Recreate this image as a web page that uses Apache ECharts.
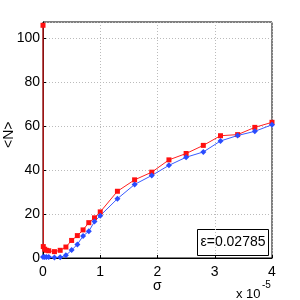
<!DOCTYPE html>
<html><head><meta charset="utf-8">
<script src="https://cdn.jsdelivr.net/npm/echarts@6/dist/echarts.min.js"></script>
<style>html,body{margin:0;padding:0;background:#fff}#c{width:300px;height:300px}</style>
</head><body><div id="c"></div>
<script>
// sigma values in units of 1e-5
const redX = [0, 0.005, 0.03, 0.06, 0.1, 0.2, 0.3, 0.4, 0.5, 0.6, 0.7, 0.8, 0.9, 1.0, 1.3, 1.6, 1.9, 2.2, 2.5, 2.8, 3.1, 3.4, 3.7, 4.0];
const redY = [106, 5.2, 4.0, 3.5, 3.3, 2.9, 3.5, 5.0, 8.0, 10.2, 12.8, 16.1, 18.3, 21.0, 30.4, 35.6, 39.1, 44.7, 47.6, 51.3, 55.7, 56.2, 59.5, 61.8];
const blueX = [0, 0.03, 0.06, 0.1, 0.2, 0.3, 0.4, 0.5, 0.6, 0.7, 0.8, 0.9, 1.0, 1.3, 1.6, 1.9, 2.2, 2.5, 2.8, 3.1, 3.4, 3.7, 4.0];
const blueY = [0.5, 0.5, 0.4, 0.4, 0.2, 0.3, 1.2, 3.6, 6.2, 10.0, 12.2, 16.6, 19.3, 27.0, 33.5, 37.6, 42.2, 45.9, 48.3, 53.3, 55.8, 57.7, 60.7];
const xTicks = [0, 1, 2, 3, 4];
const yTicks = [0, 20, 40, 60, 80, 100];
const legendText = 'ε=0.02785';

const pair = (xs, ys) => xs.map((x, i) => [x, ys[i]]);
const font = 'Liberation Sans, Arial, sans-serif';
const chart = echarts.init(document.getElementById('c'), null, {renderer: 'canvas'});
chart.setOption({
  animation: false,
  grid: {left: 43, right: 28, top: 22, bottom: 42, show: true, borderColor: '#000', borderWidth: 1, backgroundColor: 'transparent'},
  xAxis: {
    type: 'value', min: 0, max: 4, interval: 1,
    axisLine: {lineStyle: {color: '#000'}},
    axisTick: {inside: true, length: 3, lineStyle: {color: '#000'}},
    axisLabel: {color: '#000', fontSize: 14, fontFamily: font, margin: 7,
      formatter: v => xTicks.includes(v) ? String(v) : ''},
    splitLine: {show: true, lineStyle: {color: '#bbb', type: [1, 2], width: 1}}
  },
  yAxis: {
    type: 'value', min: 0, max: 107.5, interval: 20,
    axisLine: {lineStyle: {color: '#000'}},
    axisTick: {inside: true, length: 3, lineStyle: {color: '#000'}},
    axisLabel: {color: '#000', fontSize: 14, fontFamily: font, margin: 3, showMaxLabel: false,
      formatter: v => yTicks.includes(v) ? String(v) : ''},
    splitLine: {show: true, lineStyle: {color: '#bbb', type: [1, 2], width: 1}}
  },
  series: [
    {type: 'line', data: pair(redX, redY), symbol: 'rect', symbolSize: 5,
      lineStyle: {color: '#ff2020', width: 1}, itemStyle: {color: '#ff1010'}},
    {type: 'line', data: pair(blueX, blueY), symbol: 'diamond', symbolSize: 6,
      lineStyle: {color: '#3a5cff', width: 1}, itemStyle: {color: '#2a4cff'}}
  ],
  graphic: [
    {type: 'text', x: 2, y: 148, rotation: Math.PI / 2, style: {text: '<N>', font: '14px ' + font, fill: '#000'}},
    {type: 'text', x: 153, y: 279, style: {text: 'σ', font: '14px ' + font, fill: '#000'}},
    {type: 'text', x: 236, y: 288, style: {text: 'x 10', font: '13px ' + font, fill: '#000'}},
    {type: 'text', x: 262, y: 280, style: {text: '-5', font: '10px ' + font, fill: '#000'}},
    {type: 'rect', shape: {x: 197.5, y: 229.5, width: 71, height: 26}, style: {fill: '#fff', stroke: '#000', lineWidth: 1}},
    {type: 'text', x: 233, y: 242.5, style: {text: legendText, font: '14px ' + font, fill: '#000', align: 'center', verticalAlign: 'middle'}}
  ]
});
</script></body></html>
